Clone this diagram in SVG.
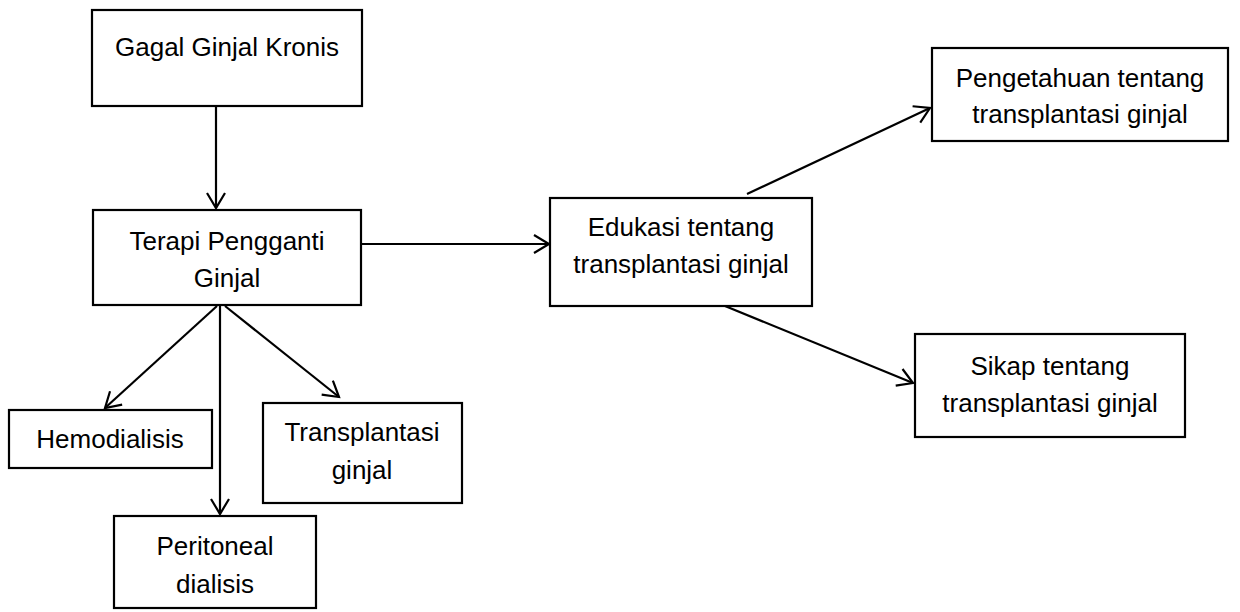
<svg xmlns="http://www.w3.org/2000/svg" width="1240" height="612" viewBox="0 0 1240 612">
<style>
.box{fill:#fff;stroke:#000;stroke-width:2.2}
.t{font-family:"Liberation Sans",Arial,sans-serif;font-size:26px;fill:#000;text-anchor:middle}
.c{stroke:#000;stroke-width:2.2;fill:none;marker-end:url(#ah)}
</style>
<defs>
<marker id="ah" markerUnits="userSpaceOnUse" markerWidth="24" markerHeight="24" refX="16" refY="10" orient="auto">
<path d="M1,1 L16,10 L1,19" fill="none" stroke="#000" stroke-width="2.2"/>
</marker>
</defs>
<rect width="1240" height="612" fill="#fff"/>
<g id="connectors">
<line class="c" x1="216" y1="106" x2="216" y2="208"/>
<line class="c" x1="362" y1="244" x2="549" y2="244"/>
<line class="c" x1="217" y1="306" x2="105" y2="408"/>
<line class="c" x1="220" y1="306" x2="220" y2="514"/>
<line class="c" x1="225" y1="306" x2="339" y2="397"/>
<line class="c" x1="747" y1="194" x2="930" y2="108"/>
<line class="c" x1="725" y1="306" x2="913" y2="383"/>
</g>
<g id="gagal">
<rect class="box" x="92" y="10" width="270" height="96"/>
<text class="t" x="227" y="56">Gagal Ginjal Kronis</text>
</g>
<g id="terapi">
<rect class="box" x="93" y="210" width="268" height="95"/>
<text class="t" x="227" y="250">Terapi Pengganti</text>
<text class="t" x="227" y="287">Ginjal</text>
</g>
<g id="hemodialisis">
<rect class="box" x="9" y="410" width="203" height="58"/>
<text class="t" x="110" y="448">Hemodialisis</text>
</g>
<g id="peritoneal">
<rect class="box" x="114" y="516" width="202" height="92"/>
<text class="t" x="215" y="555">Peritoneal</text>
<text class="t" x="215" y="593">dialisis</text>
</g>
<g id="transplantasi">
<rect class="box" x="263" y="403" width="199" height="100"/>
<text class="t" x="362" y="441">Transplantasi</text>
<text class="t" x="362" y="479">ginjal</text>
</g>
<g id="edukasi">
<rect class="box" x="550" y="198" width="262" height="108"/>
<text class="t" x="681" y="236">Edukasi tentang</text>
<text class="t" x="681" y="273">transplantasi ginjal</text>
</g>
<g id="pengetahuan">
<rect class="box" x="932" y="48" width="296" height="93"/>
<text class="t" x="1080" y="87">Pengetahuan tentang</text>
<text class="t" x="1080" y="123">transplantasi ginjal</text>
</g>
<g id="sikap">
<rect class="box" x="915" y="334" width="270" height="103"/>
<text class="t" x="1050" y="375">Sikap tentang</text>
<text class="t" x="1050" y="412">transplantasi ginjal</text>
</g>
</svg>
